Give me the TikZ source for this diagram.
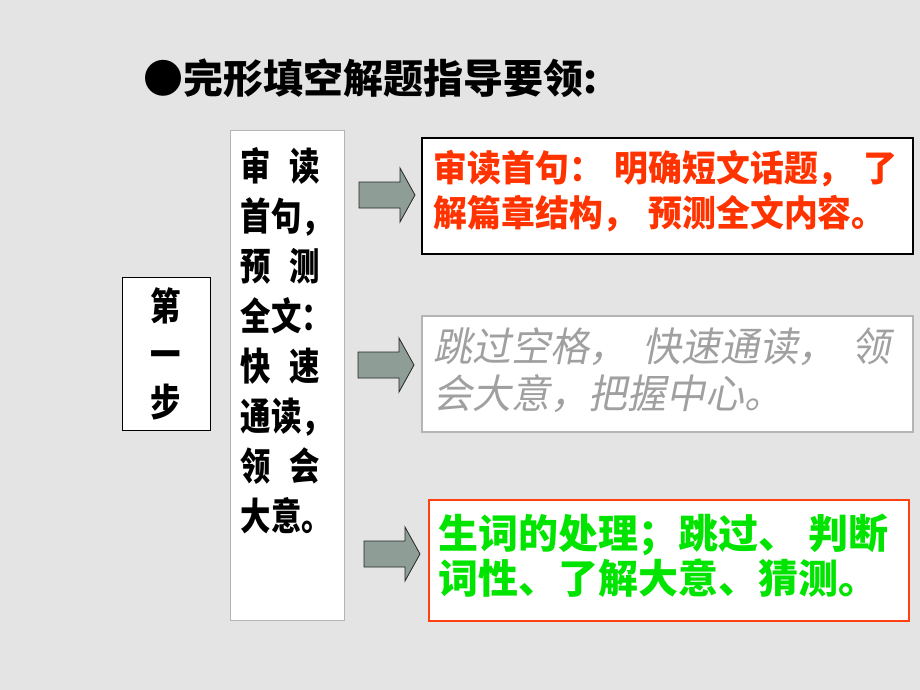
\documentclass[tikz,border=0pt]{standalone}
\usepackage{fontspec}
\newfontfamily\cjkfont{Noto Sans CJK SC}
\newfontfamily\cjknarrow[FakeStretch=0.8]{Noto Sans CJK SC}
\newfontfamily\cjkbox[FakeStretch=0.94]{Noto Sans CJK SC}
\newfontfamily\cjkslant[FakeStretch=0.97,FakeSlant=0.2]{Noto Sans CJK SC}
\definecolor{bggray}{HTML}{E4E4E4}
\definecolor{arrowfill}{HTML}{8E9E96}
\definecolor{redtext}{HTML}{FF3300}
\definecolor{graytext}{HTML}{A0A0A0}
\definecolor{graybox}{HTML}{B4B4B4}
\definecolor{greentext}{HTML}{00E400}
\definecolor{redbox}{HTML}{FF4010}
\tikzset{
  txtbox/.style={anchor=north west,align=left,fill=white,line width=1.5pt,
    inner xsep=12pt,inner ysep=12pt},
  blockarrow/.style={draw=black!85,fill=arrowfill,line width=0.8pt,line join=miter}
}
\begin{document}
\begin{tikzpicture}[x=1pt,y=-1pt]
    \fill[bggray] (0,0) rectangle (920,690);
    \useasboundingbox (0,0) rectangle (920,690);
    %% title
    \node[anchor=base west,inner sep=0pt,font=\fontsize{40}{40}\cjkfont\bfseries] (title) at (143,94)
        {●完形填空解题指导要领:};
    %% step label and summary column
    \node[draw=black,line width=1pt,fill=white,minimum width=88pt,minimum height=153pt,
          align=center,inner sep=0pt,font=\fontsize{38}{48}\cjknarrow\bfseries] (step) at (166,353.5)
        {第\\一\\步};
    \node[anchor=north west,draw=graybox,line width=1.2pt,fill=white,align=left,
          text width=94pt,inner xsep=10pt,inner ysep=12pt,text height=38pt,text depth=428pt,
          font=\fontsize{38}{50}\cjknarrow\bfseries] (summary) at (230,130)
        {审\hspace{18pt}读\\首句，\\预\hspace{18pt}测\\全文：\\
         快\hspace{18pt}速\\通读，\\领\hspace{18pt}会\\大意。};
    %% three boxes
    \node[txtbox,draw=black,text width=467pt,text height=32pt,text depth=60pt,text=redtext,
          font=\fontsize{36}{45}\cjkbox\bfseries] (first) at (421,137)
        {审读首句：\hspace{12pt}明确短文话题，\hspace{12pt}了\\
         解篇章结构，\hspace{12pt}预测全文内容。};
    \node[txtbox,draw=graybox,text width=467pt,text height=34pt,text depth=58pt,text=graytext,
          font=\fontsize{40}{47}\cjkslant] (second) at (421,315)
        {跳过空格，\hspace{15pt}快速通读，\hspace{15pt}领\\
         会大意，把握中心。};
    \node[txtbox,draw=redbox,text width=460pt,inner xsep=10pt,text height=37pt,text depth=60pt,
          text=greentext,font=\fontsize{40}{45}\cjkfont\bfseries] (third) at (428,499)
        {生词的处理；跳过、\hspace{10pt}判断\\
         词性、了解大意、猜测。};
    %% arrows
    \foreach \x/\y in {415/195,414/365,420/554}
        \draw[blockarrow] (\x-56,\y-13) -- (\x-15,\y-13) -- (\x-15,\y-27) -- (\x,\y)
            -- (\x-15,\y+27) -- (\x-15,\y+13) -- (\x-56,\y+13) -- cycle;
\end{tikzpicture}
\end{document}
